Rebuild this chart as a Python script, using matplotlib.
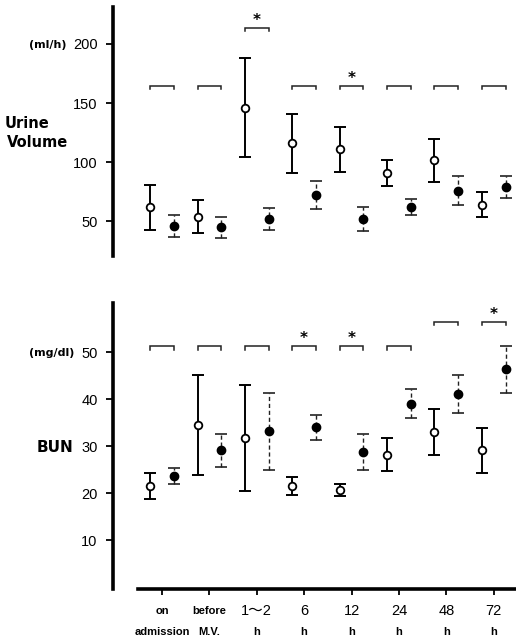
import matplotlib
matplotlib.use("Agg")
import matplotlib.pyplot as plt
import matplotlib.transforms as mtransforms
import numpy as np

# ---- data ----
groups_row1 = ["on", "before", "1\u301c2", "6", "12", "24", "48", "72"]
groups_row2 = ["admission", "M.V.", "h", "h", "h", "h", "h", "h"]

urine_open_mean = [62, 54, 146, 116, 111, 91, 101.5, 64]
urine_open_sd = [19, 14, 42, 25, 19, 11, 18.5, 10.5]
urine_filled_mean = [46, 45, 52, 72, 52, 62, 76, 79]
urine_filled_sd = [9, 9, 9, 12, 10, 7, 12, 9]
urine_bracket_y = [164.5, 164.5, 213.8, 164.5, 164.5, 164.5, 164.5, 164.5]
urine_sig = [False, False, True, False, True, False, False, False]

bun_open_mean = [21.6, 34.5, 31.7, 21.6, 20.7, 28.2, 33.0, 29.1]
bun_open_sd = [2.8, 10.7, 11.2, 1.9, 1.2, 3.5, 4.8, 4.8]
bun_filled_mean = [23.6, 29.1, 33.2, 34.0, 28.8, 39.0, 41.1, 46.3]
bun_filled_sd = [1.7, 3.6, 8.2, 2.6, 3.8, 3.1, 4.1, 5.0]
bun_bracket_y = [51.2, 51.2, 51.2, 51.2, 51.2, 51.2, 56.4, 56.4]
bun_sig = [False, False, False, True, True, False, False, True]

urine_ticks = [50, 100, 150, 200]
bun_ticks = [10, 20, 30, 40, 50]

NARROW = ["Liberation Sans", "DejaVu Sans"]
NARROW_CJK = ["Liberation Sans", "Noto Sans CJK JP", "DejaVu Sans"]

fig = plt.figure(figsize=(5.16, 6.41), dpi=100)

x = np.arange(len(groups_row1))
off = 0.25
xlim = (-1.034, 7.47)


def panel(ax, om, osd, fm, fsd, by, sig, ticks, ylim, tip, star_gap):
    ax.set_xlim(*xlim)
    ax.set_ylim(*ylim)
    # open circles (solid error bars)
    ax.errorbar(x - off, om, yerr=osd, fmt="none", ecolor="black",
                elinewidth=1.4, capsize=4, capthick=1.4, zorder=2)
    ax.plot(x - off, om, "o", ms=5.5, mfc="white", mec="black", mew=1.3,
            zorder=3, linestyle="none")
    # filled circles (dashed error bars)
    eb = ax.errorbar(x + off, fm, yerr=fsd, fmt="none", ecolor="#222222",
                     elinewidth=1.0, capsize=4, capthick=1.2, zorder=2)
    for lc in eb.lines[2]:
        lc.set_linestyle((0, (3, 2)))
    ax.plot(x + off, fm, "o", ms=6, mfc="black", mec="black",
            zorder=3, linestyle="none")
    # brackets
    for xi, yb, s in zip(x, by, sig):
        ax.plot([xi - off, xi - off, xi + off, xi + off],
                [yb - tip, yb, yb, yb - tip], color="#222222", lw=1.1,
                solid_joinstyle="miter")
        if s:
            ax.text(xi, yb + star_gap, "*", ha="center", va="center",
                    fontsize=11, fontweight="bold")
    ax.set_yticks(ticks)
    ax.set_yticklabels([str(t) for t in ticks], family=NARROW, fontsize=10.5)
    ax.tick_params(axis="y", direction="out", length=5, width=1.3, pad=6)
    ax.spines["left"].set_linewidth(2.6)
    ax.spines["right"].set_visible(False)
    ax.spines["top"].set_visible(False)


# ---- top panel ----
ax1 = fig.add_axes([113 / 516, 1 - 256 / 641, 1 - 113 / 516, 249 / 641])
panel(ax1, urine_open_mean, urine_open_sd, urine_filled_mean, urine_filled_sd,
      urine_bracket_y, urine_sig, urine_ticks, (20.6, 231.3), 3.0, 6.0)
ax1.spines["bottom"].set_visible(False)
ax1.set_xticks([])

# ---- bottom panel ----
ax2 = fig.add_axes([113 / 516, 1 - 589 / 641, 1 - 113 / 516, 286 / 641])
panel(ax2, bun_open_mean, bun_open_sd, bun_filled_mean, bun_filled_sd,
      bun_bracket_y, bun_sig, bun_ticks, (-0.3, 60.4), 0.75, 1.6)
ax2.spines["bottom"].set_linewidth(2.6)
ax2.spines["bottom"].set_bounds(-0.506, xlim[1])
ax2.set_xticks(x)
ax2.set_xticklabels([""] * len(x))
ax2.tick_params(axis="x", direction="out", length=4, width=1.3)

tr = mtransforms.blended_transform_factory(ax2.transData, fig.transFigure)
for xi, l1, l2 in zip(x, groups_row1, groups_row2):
    if l1 in ("on", "before"):
        ax2.text(xi, 1 - 611 / 641, l1, transform=tr, ha="center", va="center",
                 family=["Liberation Sans", "DejaVu Sans"], fontweight="bold",
                 fontsize=8)
    else:
        ax2.text(xi, 1 - 611 / 641, l1, transform=tr, ha="center", va="center",
                 family=NARROW_CJK, fontsize=10.5)
    ax2.text(xi, 1 - 632 / 641, l2, transform=tr, ha="center", va="center",
             family=["Liberation Sans", "DejaVu Sans"], fontweight="bold",
             fontsize=8)

# ---- axis titles ----
fig.text(66 / 516, 1 - 45 / 641, "(ml/h)", ha="right", va="center",
         fontsize=8, fontweight="bold")
fig.text(5 / 516, 1 - 124 / 641, "Urine", ha="left", va="center",
         fontsize=10.5, fontweight="bold")
fig.text(7 / 516, 1 - 143 / 641, "Volume", ha="left", va="center",
         fontsize=10.5, fontweight="bold")
fig.text(74 / 516, 1 - 353 / 641, "(mg/dl)", ha="right", va="center",
         fontsize=8, fontweight="bold")
fig.text(73 / 516, 1 - 447 / 641, "BUN", ha="right", va="center",
         fontsize=11, fontweight="bold")

fig.savefig("out.png", dpi=100)
